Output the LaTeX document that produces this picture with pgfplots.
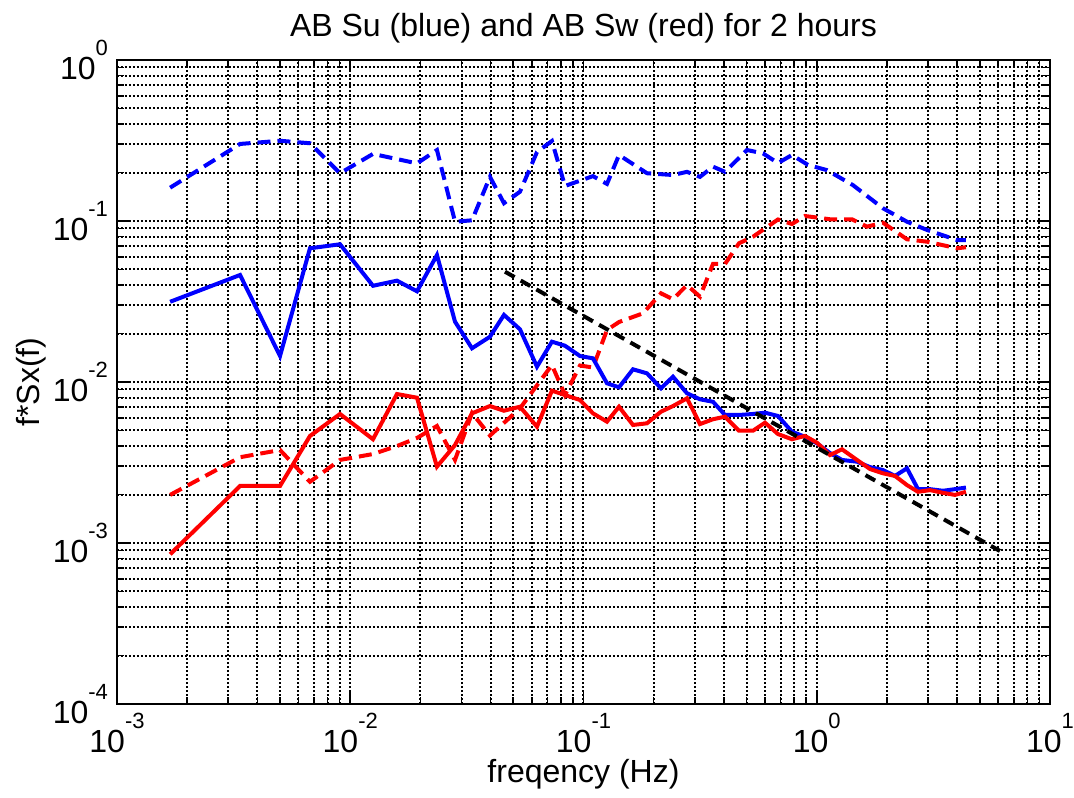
\documentclass[border=0pt]{standalone}
\usepackage{fontspec}
\setmainfont{Liberation Sans}
\usepackage{pgfplots}
\pgfplotsset{compat=1.18}
\newcommand{\tl}[1]{10\raisebox{12pt}{\fontsize{11}{11}\selectfont #1}}
\begin{document}
\begin{tikzpicture}
\begin{axis}[
  xmode=log, ymode=log,
  scale only axis, width=466.5pt, height=322pt,
  xmin=1e-3, xmax=10, ymin=1e-4, ymax=1,
  xtick={1e-3,1e-2,1e-1,1,10},
  ytick={1e-4,1e-3,1e-2,1e-1,1},
  minor xtick={2e-3,3e-3,4e-3,5e-3,6e-3,7e-3,8e-3,9e-3,2e-2,3e-2,4e-2,5e-2,6e-2,7e-2,8e-2,9e-2,0.2,0.3,0.4,0.5,0.6,0.7,0.8,0.9,2,3,4,5,6,7,8,9},
  minor ytick={2e-4,3e-4,4e-4,5e-4,6e-4,7e-4,8e-4,9e-4,2e-3,3e-3,4e-3,5e-3,6e-3,7e-3,8e-3,9e-3,2e-2,3e-2,4e-2,5e-2,6e-2,7e-2,8e-2,9e-2,0.2,0.3,0.4,0.5,0.6,0.7,0.8,0.9},
  xticklabels={\tl{-3},\tl{-2},\tl{-1},\tl{0},\tl{1}},
  yticklabels={\tl{-4},\tl{-3},\tl{-2},\tl{-1},\tl{0}},
  grid=both,
  major grid style={black, line width=1pt, dash pattern=on 1pt off 1pt},
  minor grid style={black, line width=1pt, dash pattern=on 1pt off 1pt},
  tick align=inside,
  major tick length=6pt, minor tick length=3.5pt,
  every tick/.style={black, line width=0.8pt},
  axis line style={line width=1.2pt},
  ticklabel style={font=\fontsize{16}{16}\selectfont},
  xticklabel style={yshift=-1pt},
  yticklabel style={xshift=-1pt},
]
\addplot[blue, line width=2pt, dash pattern=on 6.5pt off 3.5pt] coordinates {
(1.69e-3,0.161)(3.37e-3,0.301)(5.0e-3,0.315)(6.72e-3,0.304)(9.04e-3,0.198)(1.252e-2,0.261)(1.933e-2,0.228)(2.354e-2,0.276)(2.813e-2,0.099)(3.327e-2,0.101)(3.973e-2,0.188)(4.562e-2,0.129)(5.342e-2,0.152)(6.318e-2,0.268)(7.324e-2,0.314)(8.33e-2,0.165)(0.1098,0.190)(0.1261,0.170)(0.1420,0.257)(0.1872,0.198)(0.2419,0.193)(0.2778,0.202)(0.3158,0.188)(0.3591,0.2175)(0.4043,0.202)(0.5022,0.276)(0.5882,0.263)(0.6821,0.229)(0.7832,0.257)(0.9172,0.223)(1.106,0.207)(1.430,0.167)(1.923,0.120)(2.437,0.099)(2.969,0.088)(3.993,0.0762)(4.363,0.0762)
};
\addplot[red, line width=2pt, dash pattern=on 6.5pt off 3.5pt] coordinates {
(1.69e-3,1.99e-3)(3.37e-3,3.41e-3)(5.0e-3,3.78e-3)(6.72e-3,2.40e-3)(9.04e-3,3.28e-3)(1.252e-2,3.57e-3)(1.586e-2,4.00e-3)(1.933e-2,4.49e-3)(2.354e-2,5.33e-3)(2.813e-2,3.28e-3)(3.327e-2,6.42e-3)(3.973e-2,4.65e-3)(5.342e-2,6.86e-3)(7.324e-2,0.01275)(8.33e-2,8.30e-3)(9.66e-2,0.01266)(0.1098,0.0123)(0.1261,0.02104)(0.1420,0.02358)(0.1800,0.02671)(0.2149,0.03555)(0.2419,0.03264)(0.2778,0.0400)(0.3158,0.03388)(0.3591,0.0541)(0.4043,0.0541)(0.4641,0.0727)(0.5330,0.0799)(0.6821,0.1022)(0.7832,0.0958)(0.8904,0.1074)(1.140,0.1025)(1.416,0.1025)(1.642,0.0922)(1.923,0.0976)(2.437,0.0770)(2.969,0.0744)(3.993,0.0677)(4.363,0.0687)
};
\addplot[blue, line width=2pt] coordinates {
(1.69e-3,0.0315)(3.37e-3,0.0462)(5.0e-3,0.0145)(6.72e-3,0.0677)(9.04e-3,0.0717)(1.252e-2,0.0396)(1.586e-2,0.0426)(1.933e-2,0.0366)(2.354e-2,0.0615)(2.813e-2,0.0237)(3.327e-2,0.0162)(3.973e-2,0.0191)(4.562e-2,0.0261)(5.342e-2,0.02125)(6.318e-2,0.01245)(7.324e-2,0.0178)(8.33e-2,0.0168)(9.66e-2,0.0145)(0.1098,0.01403)(0.1261,0.00982)(0.1420,0.00927)(0.1630,0.01199)(0.1872,0.01132)(0.2149,0.00914)(0.2419,0.01079)(0.2778,0.00851)(0.3158,0.00781)(0.3591,0.00754)(0.4043,0.00624)(0.4641,0.00624)(0.5330,0.00633)(0.6000,0.00645)(0.6821,0.00615)(0.7832,0.00491)(0.8904,0.00457)(1.002,0.00416)(1.140,0.00362)(1.283,0.00328)(1.488,0.00320)(1.692,0.00296)(1.923,0.00284)(2.165,0.00261)(2.437,0.00291)(2.717,0.00216)(3.058,0.00216)(3.477,0.00211)(3.914,0.00216)(4.363,0.00221)
};
\addplot[red, line width=2pt] coordinates {
(1.69e-3,8.51e-4)(3.37e-3,2.26e-3)(5.0e-3,2.26e-3)(6.72e-3,4.62e-3)(9.04e-3,6.33e-3)(1.252e-2,4.41e-3)(1.586e-2,8.42e-3)(1.933e-2,7.99e-3)(2.354e-2,2.98e-3)(2.813e-2,4.06e-3)(3.327e-2,6.39e-3)(3.973e-2,7.09e-3)(4.562e-2,6.63e-3)(5.342e-2,7.02e-3)(6.318e-2,5.28e-3)(7.324e-2,8.83e-3)(8.33e-2,8.30e-3)(9.66e-2,7.73e-3)(0.1098,6.39e-3)(0.1261,5.67e-3)(0.1420,7.02e-3)(0.1630,5.41e-3)(0.1872,5.54e-3)(0.2149,6.54e-3)(0.2419,7.09e-3)(0.2778,7.92e-3)(0.3158,5.48e-3)(0.3591,5.87e-3)(0.4043,6.09e-3)(0.4641,4.98e-3)(0.5330,4.98e-3)(0.6000,5.59e-3)(0.6821,4.75e-3)(0.7832,4.41e-3)(0.8904,4.62e-3)(1.002,4.20e-3)(1.140,3.52e-3)(1.283,3.82e-3)(1.488,3.28e-3)(1.692,2.88e-3)(1.923,2.71e-3)(2.165,2.61e-3)(2.437,2.29e-3)(2.717,2.08e-3)(3.058,2.13e-3)(3.477,2.05e-3)(3.914,1.99e-3)(4.363,2.08e-3)
};
\addplot[black, line width=2pt, dash pattern=on 5.5pt off 3.5pt] coordinates {
(0.04607,0.04843)(6.10,8.92e-4)
};
\coordinate (sw) at (rel axis cs:0,0);
\coordinate (ne) at (rel axis cs:1,1);
\coordinate (bc) at (rel axis cs:0.5,0);
\coordinate (lc) at (rel axis cs:0,0.5);
\coordinate (tc) at (rel axis cs:0.5,1);
\end{axis}
\node[anchor=base, font=\fontsize{16}{16}\selectfont] at ([yshift=11.5pt]tc) {AB Su (blue) and AB Sw (red) for 2 hours};
\node[anchor=base, font=\fontsize{16}{16}\selectfont] at ([yshift=-39.5pt]bc) {freqency (Hz)};
\node[rotate=90, anchor=base, font=\fontsize{16}{16}\selectfont] at ([xshift=-38.5pt]lc) {f*Sx(f)};
\pgfresetboundingbox
\path[use as bounding box] ([shift={(-58.5pt,-47pt)}]sw) rectangle ([shift={(12pt,30pt)}]ne);
\end{tikzpicture}
\end{document}
